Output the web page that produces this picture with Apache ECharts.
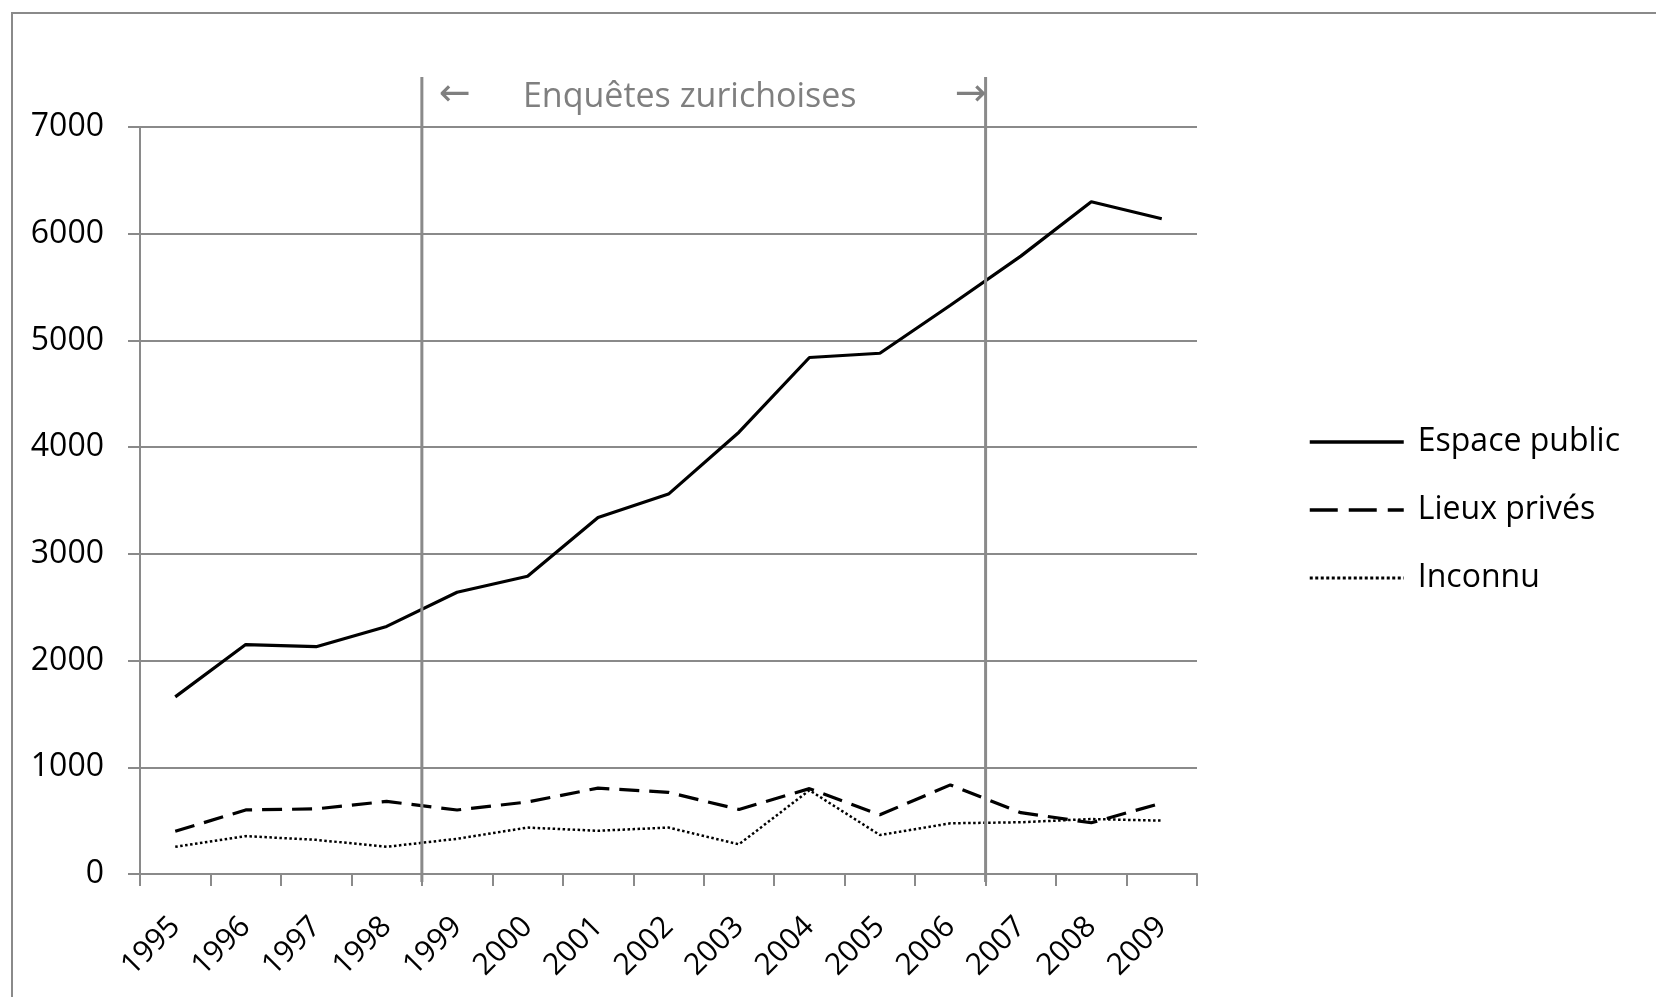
<!DOCTYPE html>
<html>
<head>
<meta charset="utf-8">
<script src="https://cdn.jsdelivr.net/npm/echarts@6/dist/echarts.min.js"></script>
<style>
html,body{margin:0;padding:0;background:#fff;}
#c{width:1656px;height:997px;}
</style>
</head>
<body>
<div id="c"></div>
<script>
const years = ['1995','1996','1997','1998','1999','2000','2001','2002','2003','2004','2005','2006','2007','2008','2009'];
const espacePublic = [1660, 2150, 2130, 2320, 2640, 2790, 3340, 3560, 4140, 4840, 4880, 5330, 5790, 6300, 6140];
const lieuxPrives = [400, 600, 610, 680, 600, 675, 805, 765, 605, 800, 555, 835, 575, 480, 665];
const inconnu = [255, 355, 320, 255, 330, 435, 405, 435, 278, 785, 365, 475, 485, 515, 500];
const yTicks = [0, 1000, 2000, 3000, 4000, 5000, 6000, 7000];
const surveyStartYear = '1999';
const surveyEndYear = '2006';
const annotation = 'Enquêtes zurichoises';

const FONT = 'Open Sans';
const GRAY = '#8a8a8a';

const chart = echarts.init(document.getElementById('c'), null, {renderer:'canvas'});
const option = {
  backgroundColor: '#fff',
  animation: false,
  grid: { left: 140, right: 459, top: 127, bottom: 123, containLabel: false },
  legend: {
    orient: 'vertical',
    left: 1308,
    top: 426,
    padding: 0,
    itemWidth: 94,
    itemHeight: 4,
    itemGap: 36,
    itemStyle: { opacity: 0 },
    textStyle: { fontSize: 32, color: '#000', fontFamily: FONT, padding: [0,0,0,9] },
    data: [
      { name: 'Espace public', itemStyle: { opacity: 0 }, lineStyle: { width: 3.5, type: 'solid', color: '#000' } },
      { name: 'Lieux privés', itemStyle: { opacity: 0 }, lineStyle: { width: 3.5, type: [28, 11], color: '#000' } },
      { name: 'Inconnu', itemStyle: { opacity: 0 }, lineStyle: { width: 3, type: [3, 2.5], color: '#000' } }
    ]
  },
  xAxis: [{
    type: 'category',
    data: years,
    boundaryGap: true,
    axisLine: { lineStyle: { color: GRAY, width: 2 } },
    axisTick: { show: true, length: 12, lineStyle: { color: GRAY, width: 2 } },
    axisLabel: { rotate: 45, margin: 48, fontSize: 30, color: '#000', fontFamily: FONT, interval: 0 },
    splitLine: { show: false }
  }, {
    type: 'value',
    min: 0,
    max: years.length,
    show: false
  }],
  yAxis: {
    type: 'value',
    min: yTicks[0],
    max: yTicks[yTicks.length-1],
    interval: yTicks[1]-yTicks[0],
    axisLine: { show: true, lineStyle: { color: GRAY, width: 2 } },
    axisTick: { show: true, length: 12, lineStyle: { color: GRAY, width: 2 } },
    axisLabel: { margin: 36, fontSize: 32, color: '#000', fontFamily: FONT, formatter: v => String(v) },
    splitLine: { show: true, lineStyle: { color: GRAY, width: 2 } }
  },
  series: [
    { name: 'Espace public', type: 'line', data: espacePublic, symbol: 'none', color: '#000',
      lineStyle: { color: '#000', width: 3.2, type: 'solid' }, z: 5 },
    { name: 'Lieux privés', type: 'line', data: lieuxPrives, symbol: 'none', color: '#000',
      lineStyle: { color: '#000', width: 3.2, type: [20, 10] }, z: 5 },
    { name: 'Inconnu', type: 'line', data: inconnu, symbol: 'none', color: '#000',
      lineStyle: { color: '#000', width: 2.5, type: [2.5, 2.5] }, z: 5 }
  ]
};
chart.setOption(option);

// survey period boundaries (left edge of first year, right edge of last year)
const xs = chart.convertToPixel({xAxisIndex:1}, years.indexOf(surveyStartYear));
const xe = chart.convertToPixel({xAxisIndex:1}, years.indexOf(surveyEndYear) + 1);
const yTop = chart.convertToPixel({yAxisIndex:0}, yTicks[yTicks.length-1]);
const yBot = chart.convertToPixel({yAxisIndex:0}, yTicks[0]);
const lineTop = yTop - 50, lineBot = yBot + 8;
const labelY = yTop - 32;

chart.setOption({
  graphic: [
    { type: 'rect', shape: { x: 12, y: 13, width: 1700, height: 1100 }, style: { fill: 'none', stroke: GRAY, lineWidth: 2 }, silent: true, z: 0 },
    { type: 'line', shape: { x1: xs, y1: lineTop, x2: xs, y2: lineBot }, style: { stroke: GRAY, lineWidth: 3 }, z: 10 },
    { type: 'line', shape: { x1: xe, y1: lineTop, x2: xe, y2: lineBot }, style: { stroke: GRAY, lineWidth: 3 }, z: 10 },
    { type: 'text', x: xs + 17, y: labelY, style: { text: '←', fontSize: 38, fontFamily: 'DejaVu Sans', fill: '#7f7f7f', align: 'left', verticalAlign: 'middle' }, z: 10 },
    { type: 'text', x: xe + 1, y: labelY, style: { text: '→', fontSize: 38, fontFamily: 'DejaVu Sans', fill: '#7f7f7f', align: 'right', verticalAlign: 'middle' }, z: 10 },
    { type: 'text', x: (xs + xe) / 2 - 14, y: labelY + 2, style: { text: annotation, fontSize: 34, fontFamily: FONT, fill: '#7f7f7f', align: 'center', verticalAlign: 'middle' }, z: 10 }
  ]
});
</script>
</body>
</html>
